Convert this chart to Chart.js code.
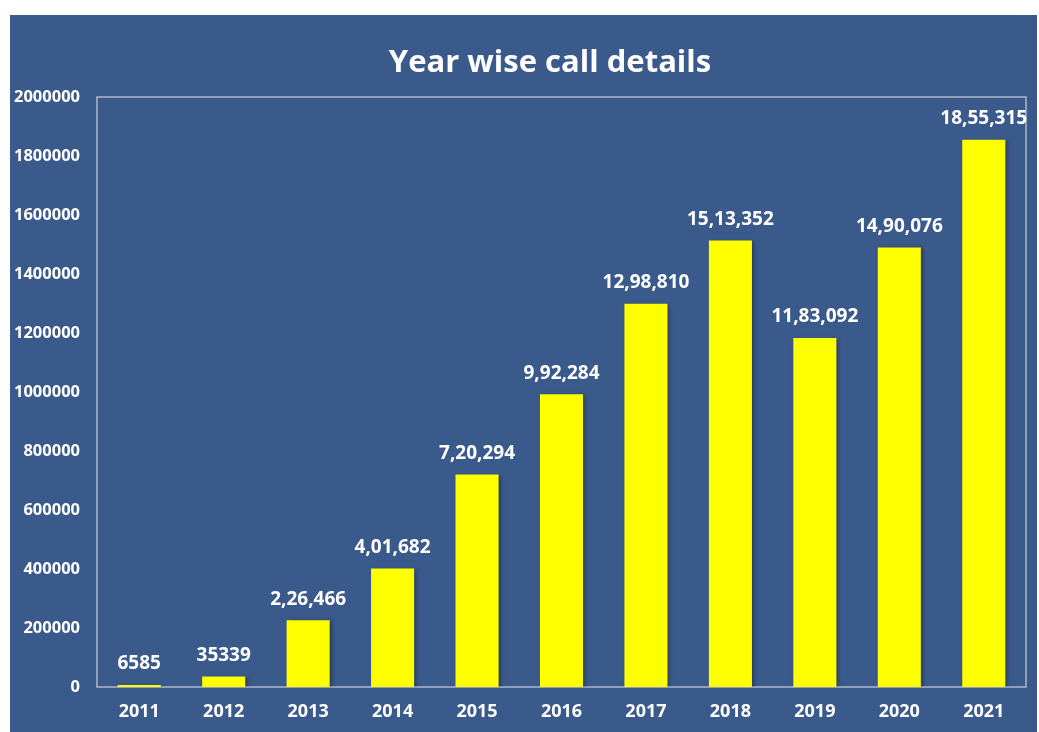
<!DOCTYPE html>
<html>
<head>
<meta charset="utf-8">
<script src="https://cdn.jsdelivr.net/npm/chart.js@4.4.0/dist/chart.umd.min.js"></script>
<style>
  html, body { margin: 0; padding: 0; background: #ffffff; }
  #wrap {
    position: absolute;
    left: 10px; top: 15px;
    width: 1027px; height: 717px;
    background: #3B5A8C;
  }
</style>
</head>
<body>
<div id="wrap"><canvas id="calls"></canvas></div>
<script>
const years = ['2011', '2012', '2013', '2014', '2015', '2016', '2017', '2018', '2019', '2020', '2021'];
const calls = [6585, 35339, 226466, 401682, 720294, 992284, 1298810, 1513352, 1183092, 1490076, 1855315];
const callLabels = ['6585', '35339', '2,26,466', '4,01,682', '7,20,294', '9,92,284', '12,98,810', '15,13,352', '11,83,092', '14,90,076', '18,55,315'];

const chartTitle = 'Year wise call details';
const FONT = '"Open Sans", "Liberation Sans", sans-serif';

// frame around plot area + title text
const framePlugin = {
    id: 'frame',
    beforeDatasetsDraw: (chart) => {
        const { ctx, chartArea } = chart;
        ctx.save();
        ctx.strokeStyle = '#AEB9CC';
        ctx.lineWidth = 1.5;
        ctx.strokeRect(chartArea.left, chartArea.top, chartArea.right - chartArea.left, chartArea.bottom - chartArea.top);
        // soft shadow under the bars
        ctx.restore();
        ctx.save();
        ctx.shadowColor = 'rgba(0,0,0,0.35)';
        ctx.shadowBlur = 4;
        ctx.shadowOffsetX = 2;
        ctx.shadowOffsetY = 1;
    },
    afterDatasetsDraw: (chart) => {
        chart.ctx.restore();
    },
    afterDraw: (chart) => {
        const { ctx } = chart;
        ctx.save();
        ctx.fillStyle = '#ffffff';
        ctx.font = 'bold 31px ' + FONT;
        ctx.textAlign = 'center';
        ctx.textBaseline = 'middle';
        ctx.fillText(chartTitle, 540, 48);
        ctx.restore();
    }
};

// value labels over each bar
const barLabels = {
    id: 'barLabels',
    afterDatasetsDraw: (chart) => {
        const { ctx } = chart;
        const meta = chart.getDatasetMeta(0);
        ctx.save();
        ctx.shadowColor = 'transparent';
        ctx.fillStyle = '#ffffff';
        ctx.font = 'bold 19px ' + FONT;
        ctx.textAlign = 'center';
        ctx.textBaseline = 'middle';
        meta.data.forEach((bar, i) => {
            ctx.fillText(callLabels[i], bar.x, bar.y - 21);
        });
        ctx.restore();
    }
};

new Chart(document.getElementById('calls'), {
    type: 'bar',
    data: {
        labels: years,
        datasets: [{
            data: calls,
            backgroundColor: '#FFFF00',
            borderWidth: 0,
            barPercentage: 0.51,
            categoryPercentage: 1
        }]
    },
    options: {
        responsive: true,
        maintainAspectRatio: false,
        animation: false,
        layout: { padding: { top: 82, right: 11, left: 0, bottom: 0 } },
        plugins: {
            legend: { display: false },
            title: { display: false },
            tooltip: { enabled: false }
        },
        scales: {
            x: {
                grid: { display: false, drawTicks: false },
                border: { display: false },
                ticks: {
                    color: '#ffffff',
                    padding: 14,
                    font: { family: FONT, size: 18, weight: 'bold' }
                },
                afterFit: (s) => { s.height = 45; }
            },
            y: {
                min: 0,
                max: 2000000,
                grid: { display: false, drawTicks: false },
                border: { display: false },
                ticks: {
                    stepSize: 200000,
                    color: '#ffffff',
                    padding: 17,
                    font: { family: FONT, size: 16.5, weight: 'bold' },
                    callback: (v) => String(v)
                },
                afterFit: (s) => { s.width = 87; }
            }
        }
    },
    plugins: [framePlugin, barLabels]
});
</script>
</body>
</html>
